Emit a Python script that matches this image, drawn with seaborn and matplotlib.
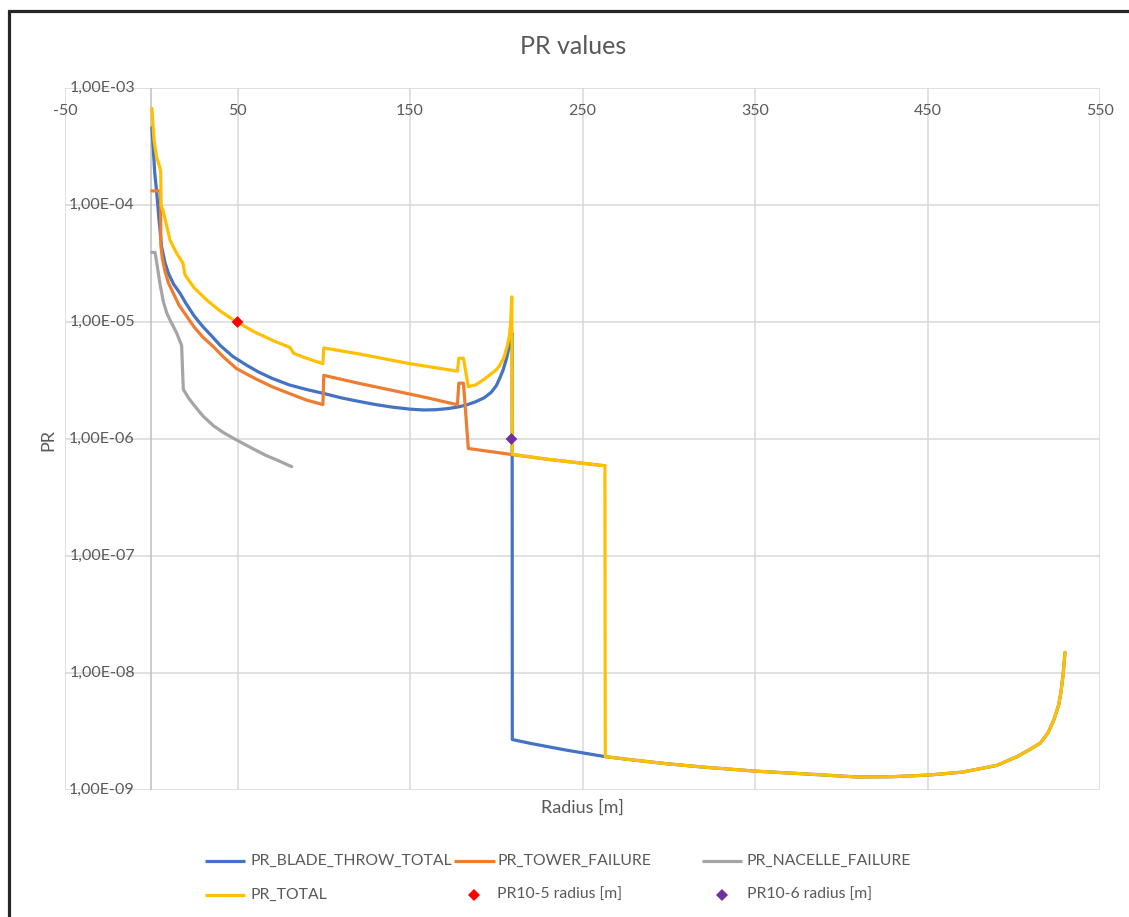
import matplotlib
matplotlib.use("Agg")
import matplotlib.pyplot as plt
import matplotlib.transforms as mtransforms
from matplotlib.lines import Line2D
from matplotlib.patches import Rectangle
from matplotlib.ticker import NullLocator
import seaborn as sns

# ---------------- data ----------------
blade_x = [0.4, 1, 2, 3.2, 4.5, 6, 8, 10, 13, 16.7, 20, 25, 30, 35, 40, 47.5, 55, 62, 70, 80,
           90, 100, 110, 120, 130, 140, 150, 158, 165, 172, 178, 183, 188, 193, 197, 200, 202,
           204, 206, 207.5, 208.5, 209.2, 209.3, 220, 240, 263, 280, 300, 320, 350, 380, 410,
           430, 450, 470, 490, 502, 510, 515.5, 520, 523.3, 526, 527.4, 528.7, 529.7]
blade_y = [4.6e-4, 3.3e-4, 1.9e-4, 1.26e-4, 7.5e-5, 4.4e-5, 3.2e-5, 2.6e-5, 2.1e-5, 1.76e-5,
           1.45e-5, 1.12e-5, 9.1e-6, 7.6e-6, 6.3e-6, 5.05e-6, 4.3e-6, 3.75e-6, 3.3e-6, 2.9e-6,
           2.65e-6, 2.45e-6, 2.25e-6, 2.1e-6, 1.97e-6, 1.87e-6, 1.8e-6, 1.77e-6, 1.78e-6, 1.82e-6,
           1.88e-6, 1.96e-6, 2.08e-6, 2.25e-6, 2.5e-6, 2.85e-6, 3.3e-6, 3.9e-6, 4.9e-6, 6.2e-6,
           7.5e-6, 8.0e-6, 2.7e-9, 2.5e-9, 2.2e-9, 1.93e-9, 1.8e-9, 1.67e-9, 1.57e-9, 1.45e-9,
           1.37e-9, 1.29e-9, 1.3e-9, 1.34e-9, 1.42e-9, 1.62e-9, 1.93e-9, 2.25e-9, 2.52e-9, 3.1e-9,
           4.0e-9, 5.3e-9, 6.9e-9, 1.0e-8, 1.5e-8]

tower_x = [0.4, 5.3, 5.6, 6.4, 8, 10, 12.8, 16, 20, 25, 30, 36, 42, 49.4, 60, 70, 80, 90, 99.5,
           100, 120, 140, 160, 177.5, 178.3, 181, 183.8, 208, 230, 263]
tower_y = [1.32e-4, 1.32e-4, 4.5e-5, 3.5e-5, 2.7e-5, 2.15e-5, 1.76e-5, 1.4e-5, 1.15e-5, 9.0e-6,
           7.4e-6, 6.15e-6, 5.0e-6, 4.0e-6, 3.3e-6, 2.8e-6, 2.45e-6, 2.15e-6, 1.97e-6,
           3.5e-6, 3.0e-6, 2.6e-6, 2.25e-6, 1.96e-6, 3.0e-6, 3.0e-6, 8.3e-7, 7.4e-7, 6.7e-7, 5.9e-7]

nacelle_x = [0.3, 2.2, 3.5, 5.1, 7, 9, 10.9, 14.8, 17.6, 18.6, 22, 26, 30.2, 36, 42, 49.5, 58,
             66, 74, 81.4]
nacelle_y = [3.94e-5, 3.94e-5, 3.0e-5, 2.1e-5, 1.5e-5, 1.19e-5, 1.04e-5, 8.0e-6, 6.3e-6, 2.65e-6,
             2.2e-6, 1.85e-6, 1.56e-6, 1.3e-6, 1.13e-6, 9.8e-7, 8.4e-7, 7.3e-7, 6.5e-7, 5.8e-7]

total_x = [0.4, 1.6, 3, 5.0, 5.5, 5.7, 7.0, 10.9, 15, 18.3, 19.5, 20.6, 25, 32.2, 40, 48.6, 60,
           70, 80.5, 82.5, 90, 99.5, 100, 120, 150, 177.5, 178.3, 181, 183.8, 188, 192.5, 197,
           200, 202.2, 204.5, 206.5, 207.5, 208.3, 209.0, 209.3, 230, 263, 263.2, 280, 300, 320,
           350, 380, 410, 430, 450, 470, 490, 502, 510, 515.5, 520, 523.3, 526, 527.4, 528.7, 529.7]
total_y = [6.7e-4, 3.6e-4, 2.6e-4, 2.1e-4, 1.9e-4, 1.0e-4, 8.8e-5, 5.0e-5, 3.8e-5, 3.2e-5,
           2.55e-5, 2.4e-5, 1.95e-5, 1.54e-5, 1.24e-5, 1.02e-5, 8.2e-6, 7.0e-6, 6.05e-6, 5.4e-6,
           4.9e-6, 4.4e-6, 6.0e-6, 5.35e-6, 4.4e-6, 3.8e-6, 4.9e-6, 4.9e-6, 2.8e-6, 2.9e-6,
           3.2e-6, 3.6e-6, 3.9e-6, 4.3e-6, 5.0e-6, 6.3e-6, 7.5e-6, 9.5e-6, 1.64e-5, 7.4e-7,
           6.7e-7, 5.9e-7, 1.93e-9, 1.8e-9, 1.67e-9, 1.57e-9, 1.45e-9, 1.37e-9, 1.29e-9, 1.3e-9,
           1.34e-9, 1.42e-9, 1.62e-9, 1.93e-9, 2.25e-9, 2.52e-9, 3.1e-9, 4.0e-9, 5.3e-9, 6.9e-9,
           1.0e-8, 1.5e-8]

pr5_x, pr5_y = [50], [1e-5]
pr6_x, pr6_y = [208.8], [1e-6]

x_ticks = [-50, 50, 150, 250, 350, 450, 550]
x_tick_labels = ["-50", "50", "150", "250", "350", "450", "550"]
y_ticks = [1e-9, 1e-8, 1e-7, 1e-6, 1e-5, 1e-4, 1e-3]
y_tick_labels = ["1,00E-09", "1,00E-08", "1,00E-07", "1,00E-06", "1,00E-05", "1,00E-04", "1,00E-03"]

series_names = ["PR_BLADE_THROW_TOTAL", "PR_TOWER_FAILURE", "PR_NACELLE_FAILURE", "PR_TOTAL"]
marker_names = ["PR10-5 radius [m]", "PR10-6 radius [m]"]

# ---------------- style ----------------
C_BLUE, C_ORANGE, C_GRAY, C_YELLOW = "#4472C4", "#ED7D31", "#A5A5A5", "#FFC000"
C_RED, C_PURPLE = "#FF0000", "#7030A0"
TXT = "#595959"

sns.set_style("white")
plt.rcParams["font.family"] = ["Lato", "DejaVu Sans"]

W, H = 1129, 917
fig = plt.figure(figsize=(W / 100, H / 100), dpi=100)
fig.patch.set_facecolor("white")

ax = fig.add_axes([65 / W, 1 - 790 / H, 1035 / W, 702 / H])
ax.set_yscale("log")
ax.set_xlim(-50, 550)
ax.set_ylim(1e-9, 1e-3)
ax.set_xticks(x_ticks)
ax.set_yticks(y_ticks)
ax.yaxis.set_minor_locator(NullLocator())
ax.xaxis.set_minor_locator(NullLocator())
ax.grid(True, color="#D9D9D9", lw=1.1)
ax.set_axisbelow(True)
ax.tick_params(length=0, labelbottom=False, labelleft=False)
for s in ax.spines.values():
    s.set_visible(False)
ax.axvline(0, color="#BFBFBF", lw=1.1, zorder=1.5)

LW = 2.3
sns.lineplot(x=nacelle_x, y=nacelle_y, sort=False, estimator=None, color=C_GRAY, lw=LW, ax=ax, zorder=3)
sns.lineplot(x=blade_x, y=blade_y, sort=False, estimator=None, color=C_BLUE, lw=LW, ax=ax, zorder=4)
sns.lineplot(x=tower_x, y=tower_y, sort=False, estimator=None, color=C_ORANGE, lw=LW, ax=ax, zorder=5)
sns.lineplot(x=total_x, y=total_y, sort=False, estimator=None, color=C_YELLOW, lw=LW, ax=ax, zorder=6)
sns.scatterplot(x=pr5_x, y=pr5_y, marker="D", color=C_RED, s=36, edgecolor="none", ax=ax, zorder=7)
sns.scatterplot(x=pr6_x, y=pr6_y, marker="D", color=C_PURPLE, s=36, edgecolor="none", ax=ax, zorder=7)
ax.set_xlabel("")
ax.set_ylabel("")

# tick labels (Excel style: x labels under top edge, y labels beside x=0 axis)
bl = mtransforms.blended_transform_factory(ax.transData, ax.transAxes)
for v, t in zip(x_ticks, x_tick_labels):
    ax.text(v, (790 - 111) / 702, t, transform=bl, ha="center", va="center",
            fontsize=11.5, color=TXT, zorder=8)
for v, t in zip(y_ticks, y_tick_labels):
    ax.text(-9.5, v, t, ha="right", va="center", fontsize=11.5, color=TXT, zorder=8)

# titles
fig.text(573 / W, 1 - 46 / H, "PR values", ha="center", va="center", fontsize=18, color=TXT)
fig.text(582 / W, 1 - 808 / H, "Radius [m]", ha="center", va="center", fontsize=13, color=TXT)
fig.text(48 / W, 1 - 440 / H, "PR", ha="center", va="center", rotation=90, fontsize=13, color=TXT)

# outer frame
fig.patches.append(Rectangle((9 / W, -0.1), 1.2, 1.1 - 10.5 / H, transform=fig.transFigure,
                             fill=False, ec="#262626", lw=2.3))

# legend (manual, Excel layout)
def leg_line(x0, x1, y, color):
    fig.add_artist(Line2D([x0 / W, x1 / W], [1 - y / H, 1 - y / H], transform=fig.transFigure,
                          color=color, lw=LW, solid_capstyle="butt"))

def leg_marker(x, y, color):
    fig.add_artist(Line2D([x / W], [1 - y / H], transform=fig.transFigure, marker="D",
                          markersize=6, color=color, markeredgewidth=0, linestyle="none"))

def leg_text(x, y, t):
    fig.text(x / W, 1 - y / H, t, ha="left", va="center", fontsize=11.3, color=TXT)

r1, r2 = 861, 895
leg_line(205, 245, r1, C_BLUE);   leg_text(250, r1, series_names[0])
leg_line(454, 495, r1, C_ORANGE); leg_text(497, r1, series_names[1])
leg_line(702, 742, r1, C_GRAY);   leg_text(747, r1, series_names[2])
leg_line(205, 245, r2, C_YELLOW); leg_text(250, r2, series_names[3])
leg_marker(474, r2, C_RED);       leg_text(497, r2, marker_names[0])
leg_marker(722, r2, C_PURPLE);    leg_text(747, r2, marker_names[1])

fig.savefig("out.png", dpi=100, facecolor="white")
